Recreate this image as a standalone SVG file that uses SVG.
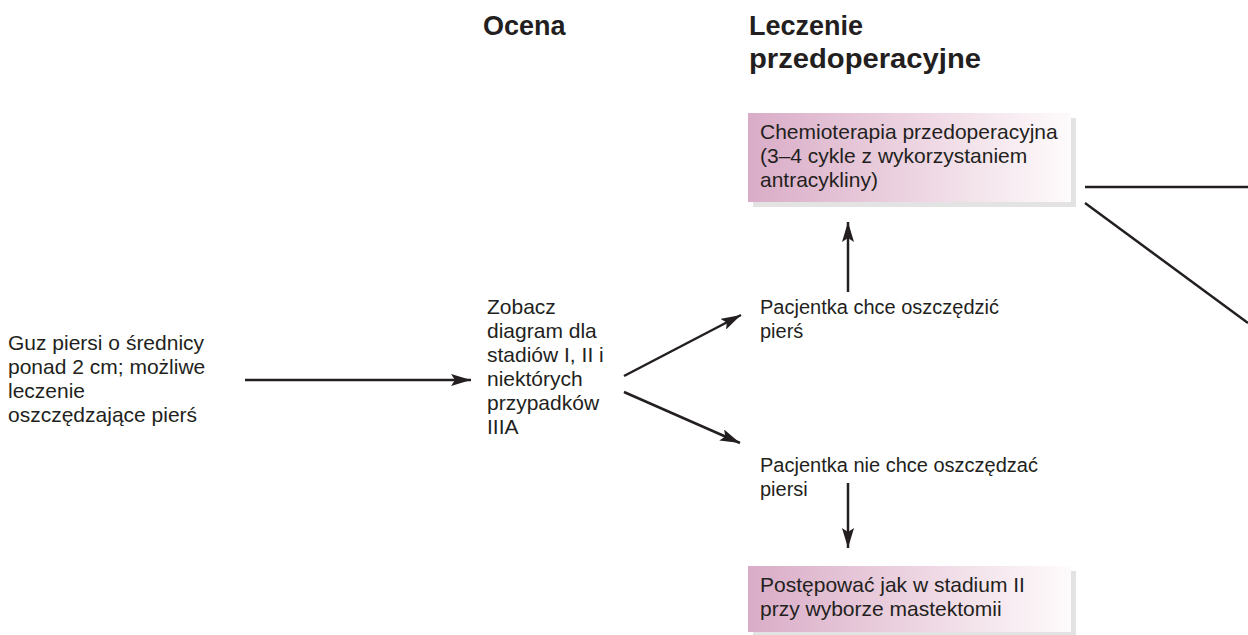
<svg xmlns="http://www.w3.org/2000/svg" width="1248" height="635" viewBox="0 0 1248 635">
<defs>
<linearGradient id="pink" x1="0" y1="0" x2="1" y2="0">
<stop offset="0" stop-color="#d9acc7"/>
<stop offset="0.5" stop-color="#ecd3e0"/>
<stop offset="1" stop-color="#fefbfc"/>
</linearGradient>
<marker id="ah" viewBox="0 0 20 12" refX="20" refY="6" markerWidth="20" markerHeight="12" markerUnits="userSpaceOnUse" orient="auto">
<path d="M0,0 L20,6 L0,12 L4,6 Z" fill="#231f20"/>
</marker>
<style>
text{font-family:"Liberation Sans",Arial,sans-serif;font-size:21px;fill:#231f20}
.s{font-size:20px}
.h{font-weight:bold;font-size:27px}
.shadow{fill:#e3e3e4}
.box{fill:url(#pink)}
.c{stroke:#231f20;stroke-width:2.5;fill:none}
</style>
</defs>
<g id="headers">
<text class="h" x="483" y="35">Ocena</text>
<text class="h" x="749" y="35">Leczenie</text>
<text class="h" x="749" y="68" textLength="232" lengthAdjust="spacingAndGlyphs">przedoperacyjne</text>
</g>
<g id="connectors">
<line class="c" x1="245" y1="380" x2="471" y2="380" marker-end="url(#ah)"/>
<line class="c" x1="624" y1="376" x2="741" y2="315" marker-end="url(#ah)"/>
<line class="c" x1="624" y1="392" x2="740" y2="443" marker-end="url(#ah)"/>
<line class="c" x1="848" y1="292" x2="848" y2="222" marker-end="url(#ah)"/>
<line class="c" x1="848" y1="483" x2="848" y2="548" marker-end="url(#ah)"/>
<line class="c" x1="1085" y1="187" x2="1248" y2="187"/>
<line class="c" x1="1085" y1="203" x2="1248" y2="323"/>
</g>
<g id="start">
<text x="8" y="350">Guz piersi o średnicy</text>
<text x="8" y="374">ponad 2 cm; możliwe</text>
<text x="8" y="398">leczenie</text>
<text x="8" y="422">oszczędzające pierś</text>
</g>
<g id="ocena">
<text x="487" y="314">Zobacz</text>
<text x="487" y="338">diagram dla</text>
<text x="487" y="362">stadiów I, II i</text>
<text x="487" y="386">niektórych</text>
<text x="487" y="410">przypadków</text>
<text x="487" y="434">IIIA</text>
</g>
<g id="chemio">
<rect class="shadow" x="753" y="118" width="323" height="89"/>
<rect class="box" x="748" y="113" width="323" height="89"/>
<text x="760" y="139">Chemioterapia przedoperacyjna</text>
<text x="760" y="163">(3–4 cykle z wykorzystaniem</text>
<text x="760" y="187">antracykliny)</text>
</g>
<g id="chce">
<text class="s" x="760" y="314">Pacjentka chce oszczędzić</text>
<text class="s" x="760" y="338">pierś</text>
</g>
<g id="niechce">
<text class="s" x="760" y="472">Pacjentka nie chce oszczędzać</text>
<text class="s" x="760" y="496">piersi</text>
</g>
<g id="mastektomia">
<rect class="shadow" x="753" y="571" width="323" height="66"/>
<rect class="box" x="748" y="566" width="323" height="66"/>
<text x="760" y="592">Postępować jak w stadium II</text>
<text x="760" y="616">przy wyborze mastektomii</text>
</g>
</svg>
